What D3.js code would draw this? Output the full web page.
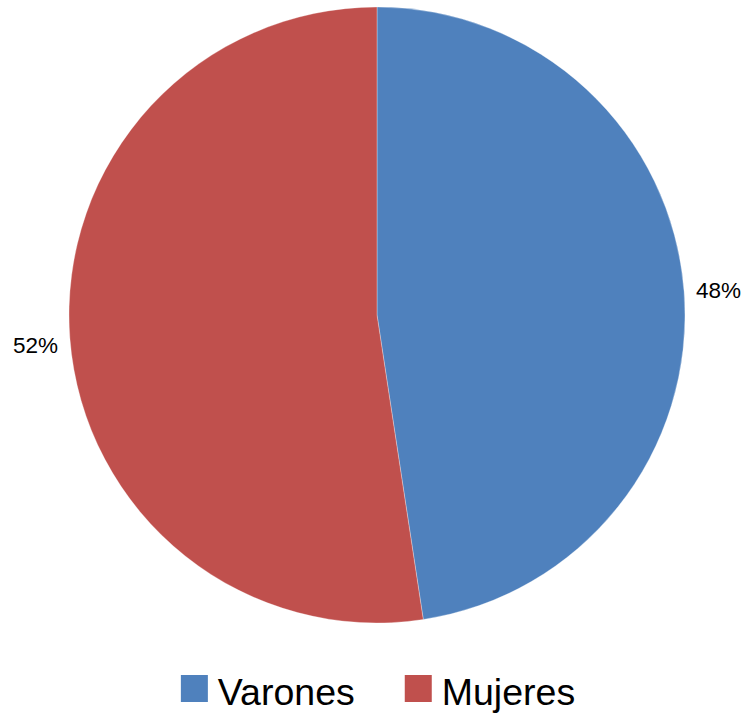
<!DOCTYPE html>
<html>
<head>
<meta charset="utf-8">
<script src="https://cdn.jsdelivr.net/npm/d3@7"></script>
<style>
  html, body { margin: 0; padding: 0; background: #fff; }
  svg { display: block; }
  text { font-family: "Liberation Sans", Arial, sans-serif; fill: #000; }
</style>
</head>
<body>
<svg id="chart" width="748" height="714"></svg>
<script>
const categories = ["Varones", "Mujeres"];
const values = [47.6, 52.4];
const labels = ["48%", "52%"];
const colors = ["#4F81BD", "#C0504D"];

const svg = d3.select("#chart");
const cx = 377, cy = 315, r = 308;

const pie = d3.pie().sort(null).value(d => d.v);
const data = pie(categories.map((c, i) => ({ c, v: values[i], label: labels[i], color: colors[i] })));
const arc = d3.arc().innerRadius(0).outerRadius(r);

const g = svg.append("g").attr("transform", `translate(${cx},${cy})`);
g.selectAll("path").data(data).join("path")
  .attr("d", arc)
  .attr("fill", d => d.data.color)
  .attr("stroke", "rgba(255,255,255,0.5)")
  .attr("stroke-width", 0.6);

const labelR = 320;
g.selectAll("text.lbl").data(data).join("text")
  .attr("class", "lbl")
  .attr("x", d => { const a = (d.startAngle + d.endAngle) / 2; return Math.sin(a) * labelR; })
  .attr("y", d => { const a = (d.startAngle + d.endAngle) / 2; return -Math.cos(a) * labelR; })
  .attr("dy", d => ((d.startAngle + d.endAngle) / 2 < Math.PI) ? "0.3em" : "0.6em")
  .attr("text-anchor", d => ((d.startAngle + d.endAngle) / 2 < Math.PI) ? "start" : "end")
  .attr("font-size", 22.5)
  .text(d => d.data.label);

// Legend
const legend = svg.append("g");
const sq = 27, gapText = 10, gapItem = 50;
let x = 0;
categories.forEach((c, i) => {
  const item = legend.append("g").attr("transform", `translate(${x},0)`);
  item.append("rect").attr("x", 0).attr("y", 0).attr("width", sq).attr("height", sq).attr("fill", colors[i]);
  const t = item.append("text").attr("x", sq + gapText).attr("y", 30).attr("font-size", 37.5).text(c);
  x += sq + gapText + t.node().getComputedTextLength() + gapItem;
});
const totalW = x - gapItem;
legend.attr("transform", `translate(${378 - totalW / 2},675)`);
</script>
</body>
</html>
